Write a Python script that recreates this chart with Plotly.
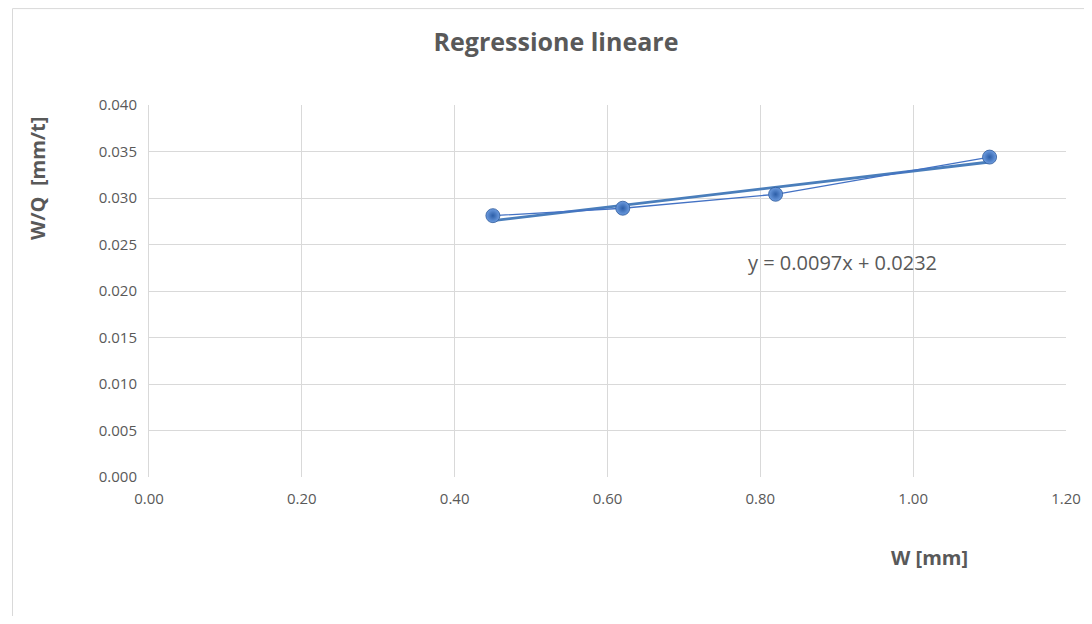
import plotly.graph_objects as go

# Data
w_mm = [0.45, 0.62, 0.82, 1.10]
wq = [0.0281, 0.0289, 0.0304, 0.0344]
trend_slope = 0.0097
trend_intercept = 0.0232
x_ticks = [0.0, 0.2, 0.4, 0.6, 0.8, 1.0, 1.2]
y_ticks = [0.000, 0.005, 0.010, 0.015, 0.020, 0.025, 0.030, 0.035, 0.040]

trend_x = [min(w_mm), max(w_mm)]
trend_y = [trend_slope * x + trend_intercept for x in trend_x]

FONT = "'Open Sans', sans-serif"
GREY = "#595959"
BLUE = "#4472c4"

fig = go.Figure()
fig.add_trace(go.Scatter(
    x=trend_x, y=trend_y, mode="lines",
    line=dict(color="#4a7ebb", width=2.8),
    hoverinfo="skip", showlegend=False))
fig.add_trace(go.Scatter(
    x=w_mm, y=wq, mode="lines+markers",
    line=dict(color=BLUE, width=1.3),
    marker=dict(size=14, color="#6d9ce0",
                gradient=dict(type="radial", color="#2c5ea8"),
                line=dict(color="#2e5a9a", width=0.8)),
    showlegend=False))

# page body has an 8px margin: work in reference pixels minus 8
OFF = 8
W, H = 1092 - 2 * OFF, 624 - 2 * OFF
L = 149 - OFF
T = 105 - OFF
R = W - (1066 - OFF)
B = H - (477 - OFF)
pw, ph = W - L - R, H - T - B

def px(xp):
    return (xp - OFF - L) / pw

def py(yp):
    return (H - B - (yp - OFF)) / ph

fig.update_layout(
    width=W, height=H,
    margin=dict(l=L, r=R, t=T, b=B, autoexpand=False),
    paper_bgcolor="white", plot_bgcolor="white",
    font=dict(family=FONT, color=GREY, size=15),
    title=dict(text="<b>Regressione lineare</b>", x=px(556), xref="paper",
               xanchor="center", y=1 - (42 - OFF) / H, yref="container",
               yanchor="middle",
               font=dict(size=25, color=GREY, family=FONT)),
    xaxis=dict(range=[0, 1.2], tickvals=x_ticks, tickformat=".2f",
               automargin=False,
               showgrid=True, gridcolor="#d9d9d9", gridwidth=1,
               zeroline=False, showline=False, ticks="",
               ticklabelstandoff=11,
               tickfont=dict(size=15, color=GREY)),
    yaxis=dict(range=[0, 0.04], tickvals=y_ticks, tickformat=".3f",
               automargin=False,
               showgrid=True, gridcolor="#d9d9d9", gridwidth=1,
               zeroline=False, showline=True, linecolor="#d9d9d9", linewidth=1,
               ticks="", ticklabelstandoff=8,
               tickfont=dict(size=15, color=GREY)),
    showlegend=False,
)

fig.add_annotation(text="<b>W/Q  [mm/t]</b>", xref="paper", yref="paper",
                   x=px(37), y=py(179), textangle=-90, showarrow=False,
                   xanchor="center", yanchor="middle",
                   font=dict(size=20, color=GREY, family=FONT))
fig.add_annotation(text="<b>W [mm]</b>", xref="paper", yref="paper",
                   x=px(929), y=py(557), showarrow=False,
                   xanchor="center", yanchor="middle",
                   font=dict(size=20, color=GREY, family=FONT))
fig.add_annotation(text="y = 0.0097x + 0.0232", xref="paper", yref="paper",
                   x=px(842), y=py(263), showarrow=False,
                   xanchor="center", yanchor="middle",
                   font=dict(size=20, color="#595959", family=FONT))

# chart border
fig.add_shape(type="rect", xref="paper", yref="paper",
              x0=px(12.5), y0=py(640), x1=px(1110), y1=py(8.6),
              line=dict(color="#d9d9d9", width=1), layer="below")

fig.write_html("out.html")
